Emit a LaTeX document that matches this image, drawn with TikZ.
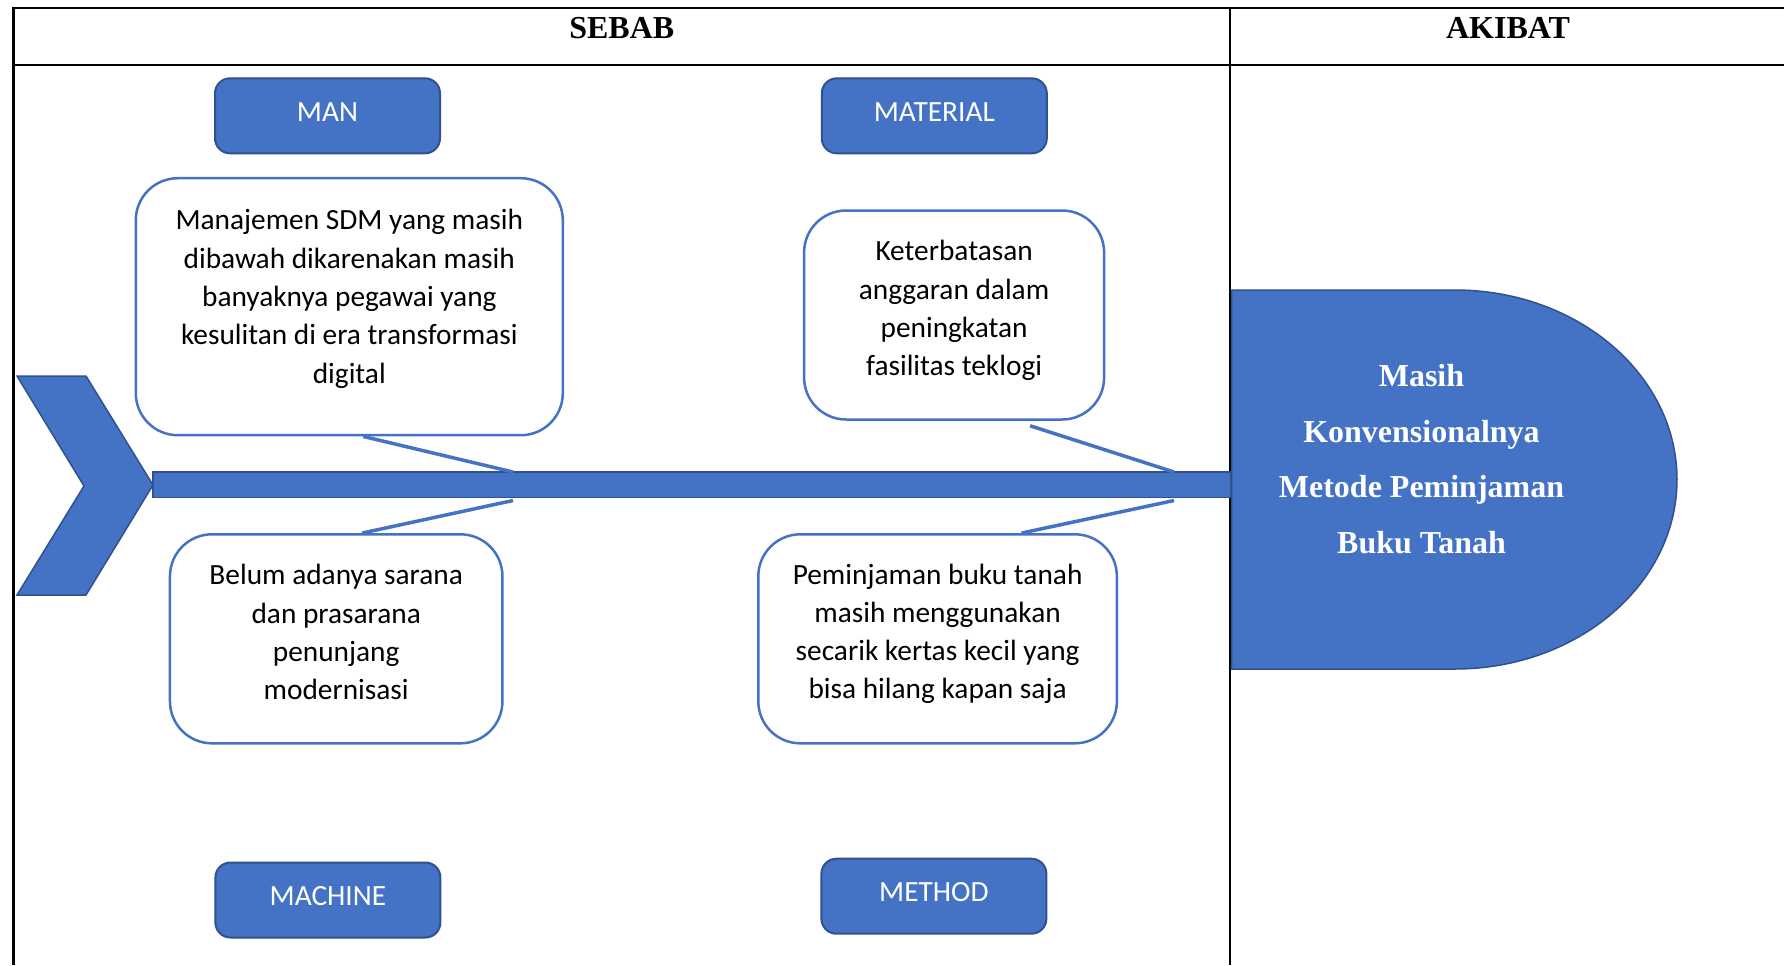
\documentclass[tikz,border=0pt]{standalone}
\usepackage{fontspec}
\setmainfont{Carlito}
\newfontfamily\timesfont{Liberation Serif}

\definecolor{biru}{HTML}{4472C4}
\definecolor{birutua}{HTML}{2F528F}

\tikzstyle{every node}=[font=\fontsize{8.35pt}{10.9pt}\selectfont]
\tikzstyle{garis}=[line width=0.25mm]
\tikzstyle{judul}=[font=\fontsize{9.1pt}{11pt}\timesfont\bfseries]
\tikzstyle{kategori}=[rectangle, rounded corners=1.5mm, fill=biru, draw=birutua, line width=0.2mm, minimum width=22.5mm, minimum height=7.5mm, inner sep=0pt, text=white, text depth=0.8mm]
\tikzstyle{kotak}=[rectangle, rounded corners=4.2mm, draw=biru, fill=white, line width=0.25mm, inner sep=0pt]
\tikzstyle{isi}=[align=center, inner sep=0pt]
\tikzstyle{tulang}=[draw=biru, line width=0.35mm]
\tikzstyle{hasil}=[font=\fontsize{9.1pt}{15.8pt}\timesfont\bfseries, text=white, align=center]

\begin{document}
\begin{tikzpicture}[x=0.1mm, y=-0.1mm]
    \useasboundingbox (0,0) rectangle (1784,965);

    % Tabel
    \draw[garis] (13.5,965) -- (13.5,8) -- (1784,8);
    \draw[garis] (13.5,65) -- (1784,65);
    \draw[garis] (1230,8) -- (1230,965);
    \node[judul] (sebab) at (621.8,28) {SEBAB};
    \node[judul] (akibat) at (1508,28) {AKIBAT};

    % Ekor ikan
    \filldraw[fill=biru, draw=birutua, line width=0.15mm] (17,376) -- (86,376) -- (153,485) -- (86,595) -- (17,595) -- (84,486) -- cycle;

    % Tulang utama
    \filldraw[fill=biru, draw=birutua, line width=0.15mm] (153,472) rectangle (1231,497.5);
    \coordinate (j1) at (513,472);
    \coordinate (j2) at (1174,472);
    \coordinate (j3) at (513,500.5);
    \coordinate (j4) at (1174,500.5);

    % Kepala ikan
    \filldraw[fill=biru, draw=birutua, line width=0.15mm] (1231.5,290) -- (1455,290)
        arc[start angle=90, end angle=-90, x radius=22.2mm, y radius=18.95mm] -- (1231.5,669) -- cycle;
    \node[hasil] (hasil) at (1421.5,459) {Masih\\Konvensionalnya\\Metode Peminjaman\\Buku Tanah};

    % Kategori
    \node[kategori] (man) at (327.5,115.8) {MAN};
    \node[kategori] (material) at (934.3,115.8) {MATERIAL};
    \node[kategori] (machine) at (327.9,900) {MACHINE};
    \node[kategori] (method) at (933.9,896.2) {METHOD};

    % Penyebab
    \node[kotak, minimum width=42.7mm, minimum height=25.7mm] (b1) at (349.3,306.7) {};
    \node[isi] (t1) at ([yshift=0.8mm]b1.center) {Manajemen SDM yang masih\\dibawah dikarenakan masih\\banyaknya pegawai yang\\kesulitan di era transformasi\\digital};

    \node[kotak, minimum width=30mm, minimum height=20.9mm] (b2) at (954.1,315) {};
    \node[isi] (t2) at ([yshift=0.45mm]b2.center) {Keterbatasan\\anggaran dalam\\peningkatan\\fasilitas teklogi};

    \node[kotak, minimum width=33.25mm, minimum height=20.9mm] (b3) at (336.2,638.8) {};
    \node[isi] (t3) at ([yshift=0.65mm]b3.center) {Belum adanya sarana\\dan prasarana\\penunjang\\modernisasi};

    \node[kotak, minimum width=35.86mm, minimum height=20.9mm] (b4) at (937.6,638.8) {};
    \node[isi] (t4) at ([yshift=0.5mm]b4.center) {Peminjaman buku tanah\\masih menggunakan\\secarik kertas kecil yang\\bisa hilang kapan saja};

    % Tulang cabang
    \draw[tulang] ([xshift=1.4mm]b1.south) -- (j1);
    \draw[tulang] ([xshift=7.6mm, yshift=-0.5mm]b2.south) -- (j2);
    \draw[tulang] (j3) -- ([xshift=2.6mm]b3.north);
    \draw[tulang] (j4) -- ([xshift=8.4mm]b4.north);
\end{tikzpicture}
\end{document}
